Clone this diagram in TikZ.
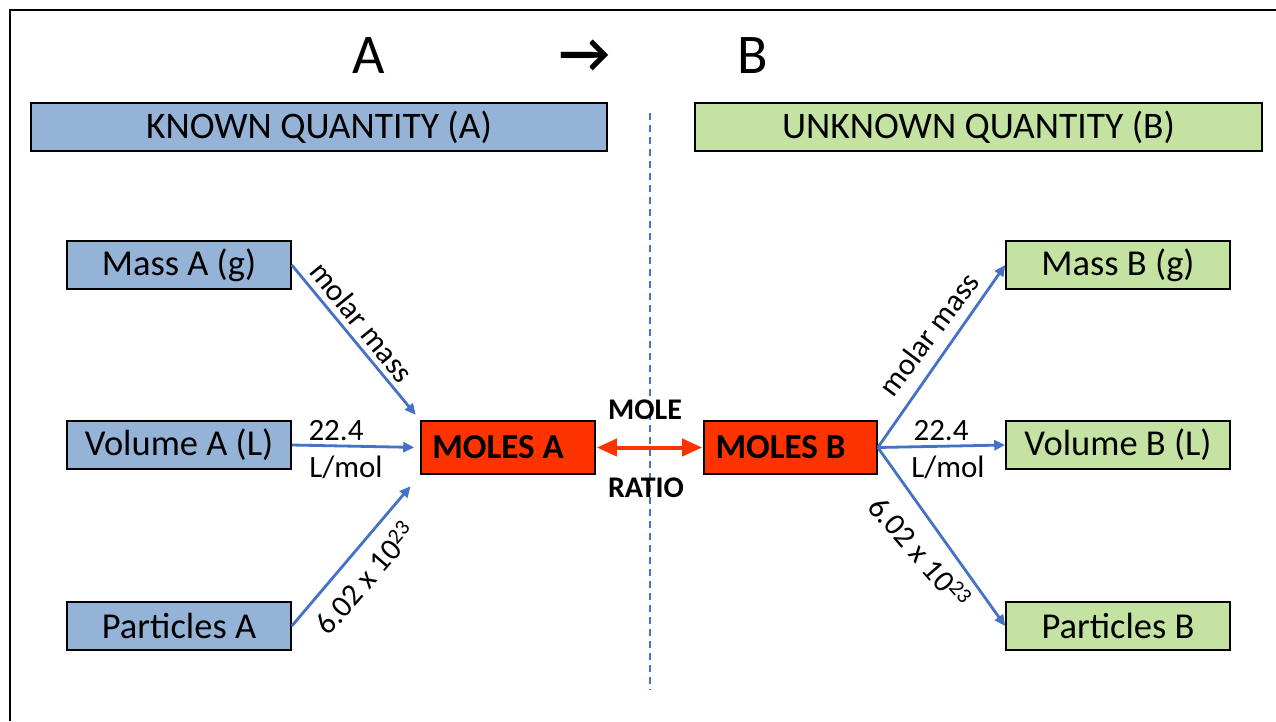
\documentclass[tikz,border=0pt]{standalone}
\usepackage{fontspec}
\setmainfont{Carlito}
\usetikzlibrary{arrows.meta}
\definecolor{boxblue}{HTML}{95B3D7}
\definecolor{boxgreen}{HTML}{C4E2A2}
\definecolor{linkblue}{HTML}{4472C4}
\definecolor{molered}{HTML}{FF3300}
\begin{document}
\begin{tikzpicture}[x=1pt,y=-1pt,
  qbox/.style={draw=black,line width=1.6pt,minimum width=224pt,minimum height=48pt,inner sep=0pt,font=\fontsize{36.5}{40}\selectfont},
  hdr/.style={draw=black,line width=1.6pt,minimum height=48pt,inner sep=0pt,font=\fontsize{37.5}{40}\selectfont},
  molebox/.style={draw=black,line width=1.6pt,fill=molered,minimum width=174pt,minimum height=53pt,inner sep=0pt,font=\bfseries\fontsize{35}{40}\selectfont},
  link/.style={draw=linkblue,line width=2.8pt,-{Triangle[length=11pt,width=10pt]}},
  lbl/.style={inner sep=0pt,font=\fontsize{31}{36}\selectfont},
  big/.style={inner sep=0pt,font=\fontsize{56}{60}\selectfont}
]
\useasboundingbox (0,0) rectangle (1276,721);
\fill[white] (0,0) rectangle (1276,721);
\draw[line width=2pt] (10,721) -- (10,10) -- (1276,10);

\node[big] (tA) at (369,56) {A};
\node[big] (tarr) at (585,56) {\textbf{→}};
\node[big] (tB) at (753,56) {B};

\node[hdr,fill=boxblue,minimum width=576pt] (known) at (319,127) {KNOWN QUANTITY (A)};
\node[hdr,fill=boxgreen,minimum width=567pt] (unknown) at (978.5,127) {UNKNOWN QUANTITY (B)};

\coordinate (dtop) at (650,113);
\coordinate (dbot) at (650,690);
\draw[linkblue,line width=1.5pt,dash pattern=on 7pt off 5pt] (dtop) -- (dbot);

\node[qbox,fill=boxblue] (massA) at (179,265) {Mass A (g)};
\node[qbox,fill=boxblue] (volA) at (179,445) {Volume A (L)};
\node[qbox,fill=boxblue] (partA) at (179,626) {Particles A};

\node[qbox,fill=boxgreen] (massB) at (1118,265) {Mass B (g)};
\node[qbox,fill=boxgreen] (volB) at (1118,445) {Volume B (L)};
\node[qbox,fill=boxgreen] (partB) at (1118,626) {Particles B};

\node[molebox] (molesA) at (508,447.5) {MOLES A\hspace*{20pt}};
\node[molebox,minimum width=173pt] (molesB) at (790.5,447.5) {MOLES B\hspace*{20pt}};

\draw[link,shorten >=7pt] (massA.east) -- (molesA.north west);
\draw[link,shorten >=6pt] (volA.east) -- (molesA.west);
\draw[link,shorten >=15pt] (partA.east) -- (molesA.south west);

\draw[link] (molesB.east) -- (massB.west);
\draw[link] (molesB.east) -- (volB.west);
\draw[link] (molesB.east) -- (partB.west);

\draw[molered,line width=4pt,{Triangle[length=20pt,width=17pt]}-{Triangle[length=20pt,width=17pt]},shorten <=1pt,shorten >=1pt] (molesA.east) -- (molesB.west);

\node[inner sep=0pt,font=\bfseries\fontsize{30}{36}\selectfont] (mole) at (645,410) {MOLE};
\node[inner sep=0pt,font=\bfseries\fontsize{30}{36}\selectfont] (ratio) at (646,488) {RATIO};

\node[lbl,rotate=-51] (mmA) at (362,322) {molar mass};
\node[lbl] (vA1) at (336,431) {22.4};
\node[lbl] (vA2) at (346,467) {L/mol};
\node[lbl,rotate=49] (pA) at (365,578) {6.02 x 10\textsuperscript{23}};

\node[lbl,rotate=53] (mmB) at (929,334) {molar mass};
\node[lbl] (vB1) at (941,431) {22.4};
\node[lbl] (vB2) at (948,467) {L/mol};
\node[lbl,rotate=-49] (pB) at (920,552) {6.02 x 10\textsuperscript{23}};
\end{tikzpicture}
\end{document}
